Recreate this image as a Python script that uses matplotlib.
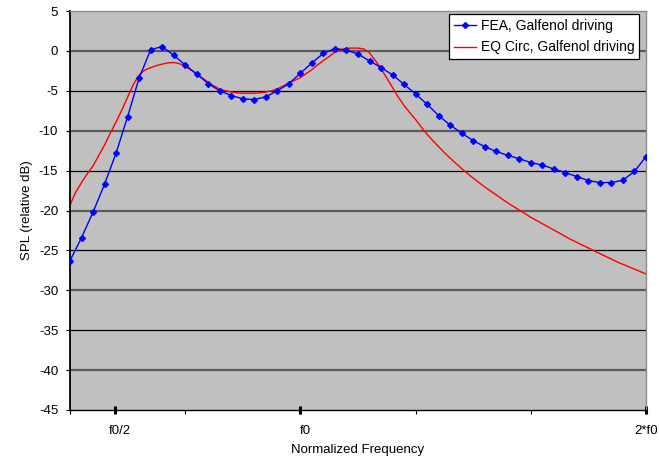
import numpy as np
import matplotlib
matplotlib.use('Agg')
import matplotlib.pyplot as plt
import matplotlib.transforms as mtransforms

plt.rcParams['font.family'] = ['Liberation Sans', 'DejaVu Sans']

# FEA result, one value per frequency step (51 steps across the band)
fea_spl = [
    -26.3, -23.4, -20.2, -16.7, -12.8, -8.25, -3.4, 0.15, 0.55, -0.55,
    -1.75, -2.9, -4.1, -5.0, -5.6, -6.0, -6.1, -5.75, -5.0, -4.1,
    -2.8, -1.5, -0.3, 0.3, 0.1, -0.4, -1.25, -2.1, -3.0, -4.2,
    -5.4, -6.7, -8.1, -9.3, -10.3, -11.25, -12.0, -12.6, -13.1, -13.5,
    -14.0, -14.3, -14.8, -15.25, -15.75, -16.25, -16.5, -16.5, -16.2, -15.1,
    -13.25,
]

# Equivalent circuit model, evaluated on a grid twice as fine
eqc_spl = [
    -19.3, -17.7, -16.5, -15.4, -14.4, -13.1, -11.8, -10.3, -8.9, -7.4,
    -5.8, -4.2, -3.0, -2.4, -2.1, -1.85, -1.65, -1.5, -1.45, -1.6,
    -1.9, -2.4, -2.9, -3.4, -3.95, -4.4, -4.8, -5.0, -5.15, -5.25,
    -5.3, -5.3, -5.3, -5.25, -5.15, -5.0, -4.75, -4.4, -4.0, -3.7,
    -3.35, -2.85, -2.35, -1.75, -1.2, -0.7, -0.15, 0.15, 0.33, 0.35,
    0.35, 0.25, -0.25, -1.2, -2.2, -3.4, -4.6, -5.8, -6.85, -7.75,
    -8.6, -9.55, -10.45, -11.25, -12.0, -12.75, -13.45, -14.1, -14.75, -15.35,
    -15.95, -16.5, -17.05, -17.55, -18.05, -18.55, -19.05, -19.5, -19.95, -20.4,
    -20.85, -21.25, -21.65, -22.05, -22.45, -22.85, -23.25, -23.65, -24.0, -24.35,
    -24.7, -25.05, -25.4, -25.75, -26.1, -26.45, -26.75, -27.05, -27.35, -27.65,
    -27.95,
]

freq_labels = ['f0/2', 'f0', '2*f0']
freq_label_pos = [3.9, 20, 50]

fea_x = np.arange(len(fea_spl))
eqc_x = np.arange(len(eqc_spl)) / 2.0

fig = plt.figure(figsize=(6.59, 4.57), dpi=100)
ax = fig.add_axes([70 / 659, 47 / 457, 576 / 659, 399 / 457])
ax.set_facecolor('#c0c0c0')

ax.set_xlim(0, 50)
ax.set_ylim(-45, 5)

# horizontal gridlines, alternating weight
yticks = np.arange(-45, 6, 5)
for v in yticks[1:-1]:
    if v % 10 == 0:
        ax.axhline(v, color='#5a5a5a', linewidth=1.6, zorder=1)
    else:
        ax.axhline(v, color='black', linewidth=0.9, zorder=1)

ax.plot(fea_x, fea_spl, color='#0000ff', linewidth=1.0, marker='D',
        markersize=3.0, label='FEA, Galfenol driving', zorder=3)
ax.plot(eqc_x, eqc_spl, color='#ff0000', linewidth=1.0,
        label='EQ Circ, Galfenol driving', zorder=2)

ax.set_yticks(yticks)
ax.set_yticklabels([str(v) for v in yticks])
ax.tick_params(axis='y', direction='out', length=3, width=0.8, pad=5.5,
               labelsize=9.5)

# plain ticks every 10 steps, heavier labelled ticks at f0/2, f0, 2*f0
ax.xaxis.remove_overlapping_locs = False
ax.set_xticks(np.arange(0, 51, 10))
ax.set_xticklabels([])
ax.tick_params(axis='x', which='major', direction='out', length=3, width=0.8)
ax.set_xticks(freq_label_pos, labels=freq_labels, minor=True)
ax.tick_params(axis='x', which='minor', direction='inout', length=6,
               width=2.2, pad=8, labelsize=9.5)

# nudge the first two labels a little to the right of their ticks
shift = mtransforms.ScaledTranslation(5 / 100, 0, fig.dpi_scale_trans)
for lbl in ax.get_xticklabels(minor=True)[:2]:
    lbl.set_transform(lbl.get_transform() + shift)

for side in ('top', 'right'):
    ax.spines[side].set_color('#8c8c8c')
    ax.spines[side].set_linewidth(1.0)
ax.spines['left'].set_linewidth(1.3)
ax.spines['bottom'].set_linewidth(1.0)

ax.set_xlabel('Normalized Frequency', fontsize=9.5, labelpad=5)
ax.set_ylabel('SPL (relative dB)', fontsize=9.5, labelpad=4)

leg = ax.legend(loc='upper right', bbox_to_anchor=(0.988, 0.9925),
                borderaxespad=0, fontsize=10, handlelength=1.65,
                handletextpad=0.3, labelspacing=0.55, borderpad=0.35,
                fancybox=False, framealpha=1)
leg.get_frame().set_edgecolor('black')
leg.get_frame().set_linewidth(0.9)

fig.savefig('out.png', dpi=100)
